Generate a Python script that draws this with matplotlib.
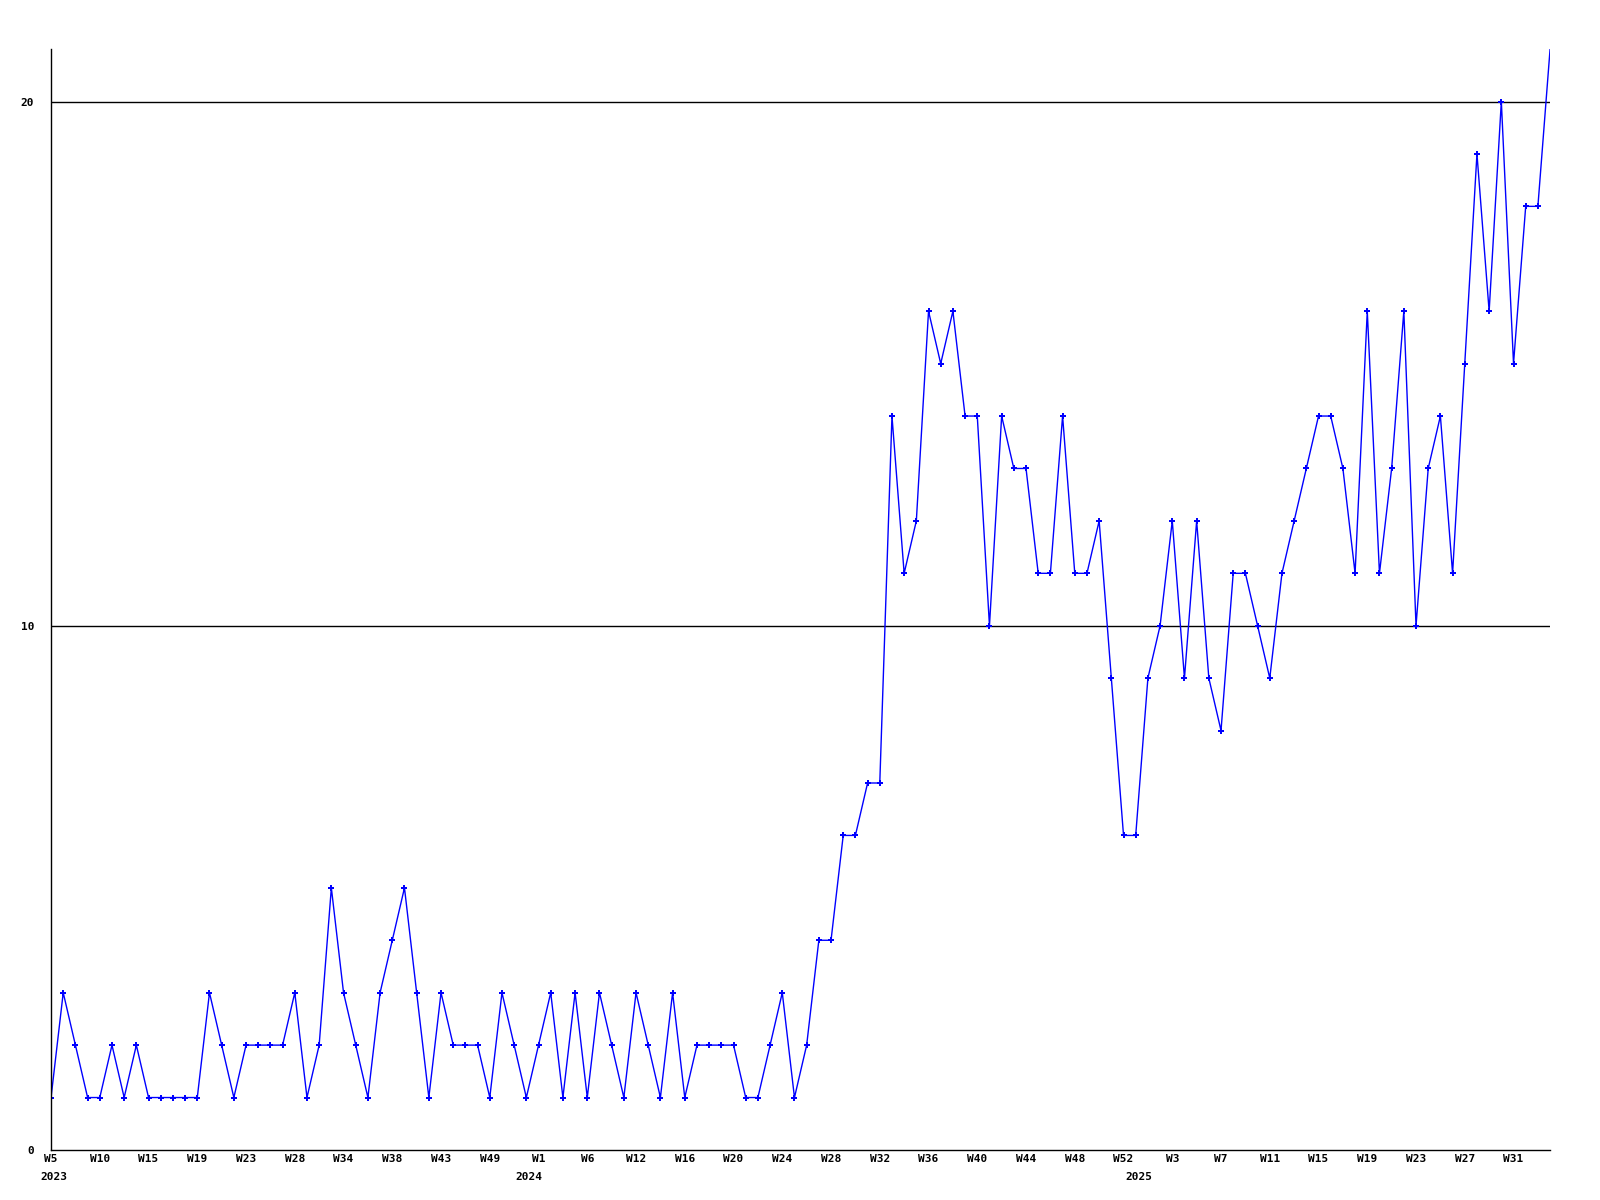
import numpy as np
import matplotlib
matplotlib.use('Agg')
import matplotlib.pyplot as plt
from matplotlib.transforms import offset_copy

# weekly counts, one point per sample
values = [1, 3, 2, 1, 1, 2, 1, 2, 1, 1, 1, 1, 1, 3, 2, 1, 2, 2, 2, 2,
          3, 1, 2, 5, 3, 2, 1, 3, 4, 5, 3, 1, 3, 2, 2, 2, 1, 3, 2, 1,
          2, 3, 1, 3, 1, 3, 2, 1, 3, 2, 1, 3, 1, 2, 2, 2, 2, 1, 1, 2,
          3, 1, 2, 4, 4, 6, 6, 7, 7, 14, 11, 12, 16, 15, 16, 14, 14, 10, 14, 13,
          13, 11, 11, 14, 11, 11, 12, 9, 6, 6, 9, 10, 12, 9, 12, 9, 8, 11, 11, 10,
          9, 11, 12, 13, 14, 14, 13, 11, 16, 11, 13, 16, 10, 13, 14, 11, 15, 19, 16, 20,
          15, 18, 18, 21]

week_labels = ['W5', 'W10', 'W15', 'W19', 'W23', 'W28', 'W34', 'W38', 'W43', 'W49',
               'W1', 'W6', 'W12', 'W16', 'W20', 'W24', 'W28', 'W32', 'W36', 'W40',
               'W44', 'W48', 'W52', 'W3', 'W7', 'W11', 'W15', 'W19', 'W23', 'W27', 'W31']
week_pos = list(range(0, 124, 4))

years = ['2023', '2024', '2025']
year_pos = [0, 39, 89]

x = np.arange(len(values))

fig = plt.figure(figsize=(16, 12), dpi=100)
ax = fig.add_axes([0.0319, 0.0417, 0.9369, 0.9174])

ax.plot(x, values, color='#0000ff', linewidth=1.0)
# last point sits on the top edge and shows no marker
ax.plot(x[:-1], values[:-1], linestyle='none', marker='P', markersize=4.5,
        markeredgewidth=0, markerfacecolor='#0000ff')

ax.set_xlim(0, len(values) - 1)
ax.set_ylim(0, 21)

for yv in [10, 20]:
    ax.axhline(yv, color='black', linewidth=1.0, zorder=0)

ax.spines['top'].set_visible(False)
ax.spines['right'].set_visible(False)
ax.spines['left'].set_linewidth(1.0)
ax.spines['bottom'].set_linewidth(1.0)

ax.set_yticks([0, 10, 20])
ax.set_yticklabels(['0', '10', '20'], fontfamily='DejaVu Sans Mono',
                   fontweight='bold', fontsize=8)
ax.tick_params(axis='y', length=0, pad=12)

ax.set_xticks(week_pos)
ax.set_xticklabels(week_labels, fontfamily='DejaVu Sans Mono',
                   fontweight='bold', fontsize=8)
ax.tick_params(axis='x', length=0, pad=3)

trans = offset_copy(ax.get_xaxis_transform(), fig=fig, x=3, y=0, units='dots')
for lab, p in zip(years, year_pos):
    ax.text(p, -0.02, lab, transform=trans,
            ha='center', va='top', fontfamily='DejaVu Sans Mono',
            fontweight='bold', fontsize=8)

fig.savefig('out.png', dpi=100)
